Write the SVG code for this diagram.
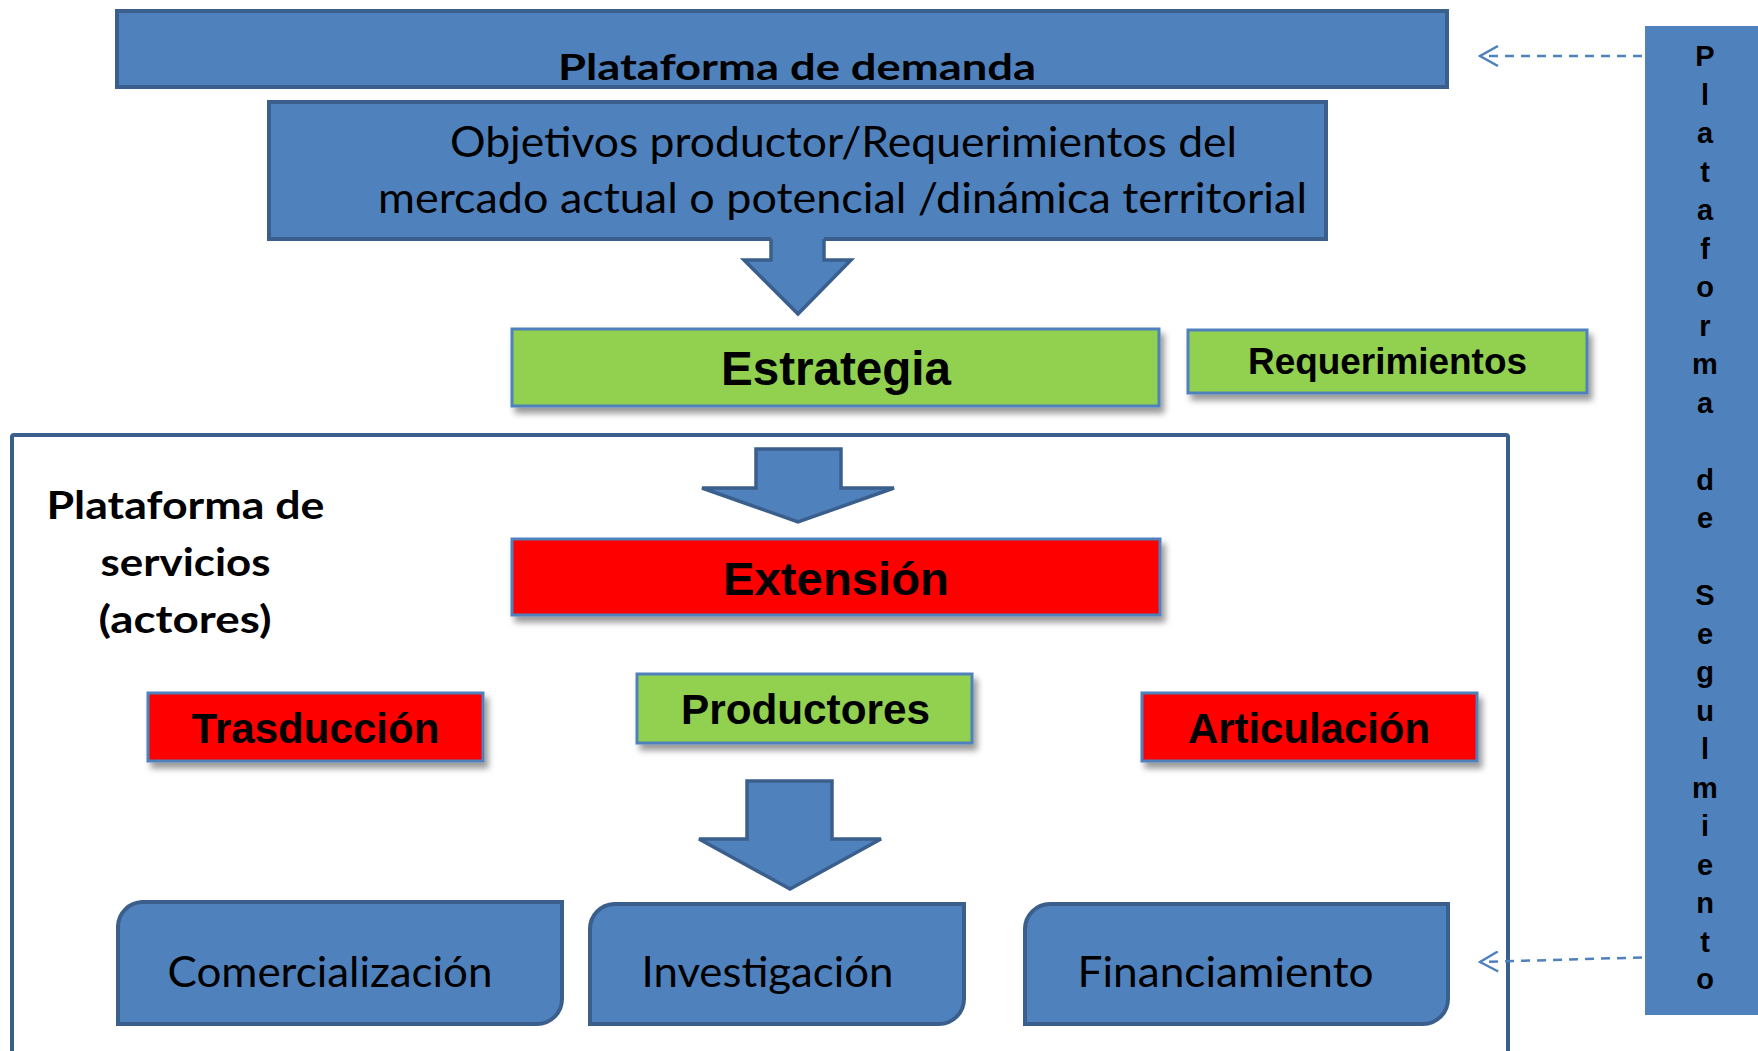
<svg xmlns="http://www.w3.org/2000/svg" width="1758" height="1051" viewBox="0 0 1758 1051">
<defs>
<style>
.blue{fill:#4F81BD;stroke:#3B5F8C;stroke-width:4}
.green{fill:#92D050;stroke:#4F81BD;stroke-width:3;filter:url(#sh)}
.red{fill:#FF0000;stroke:#4F81BD;stroke-width:3;filter:url(#sh)}
.arial{font-family:"Liberation Sans",Arial,sans-serif;font-weight:bold;fill:#000}
.cal{font-family:Lato,"Open Sans",sans-serif;fill:#000}
.calb{font-family:Lato,"Open Sans",sans-serif;font-weight:bold;fill:#000}
.dash{fill:none;stroke:#4F81BD;stroke-width:2.5;stroke-dasharray:9 7}
.arrfill{fill:#4F81BD;stroke:none}
.arrline{fill:none;stroke:#3B5F8C;stroke-width:3.5;stroke-linejoin:miter}
.vt{font-family:"Liberation Sans",Arial,sans-serif;font-weight:bold;font-size:29px;fill:#000;text-anchor:middle}
</style>
<filter id="sh" x="-10%" y="-20%" width="130%" height="160%">
<feDropShadow dx="4" dy="6" stdDeviation="3" flood-color="#000" flood-opacity="0.4"/>
</filter>
<marker id="chev" viewBox="0 0 22 22" refX="20" refY="11" markerWidth="22" markerHeight="22" markerUnits="userSpaceOnUse" orient="auto">
<path d="M2,1 L20,11 L2,21" fill="none" stroke="#4F81BD" stroke-width="2.5"/>
</marker>
</defs>

<g id="seguimiento">
<rect x="1645" y="26" width="113" height="989" fill="#4F81BD"/>
<text class="vt" x="1705" y="66">P</text>
<text class="vt" x="1705" y="104.5">l</text>
<text class="vt" x="1705" y="143">a</text>
<text class="vt" x="1705" y="181.5">t</text>
<text class="vt" x="1705" y="220">a</text>
<text class="vt" x="1705" y="258.5">f</text>
<text class="vt" x="1705" y="297">o</text>
<text class="vt" x="1705" y="335.5">r</text>
<text class="vt" x="1705" y="374">m</text>
<text class="vt" x="1705" y="412.5">a</text>
<text class="vt" x="1705" y="489.5">d</text>
<text class="vt" x="1705" y="528">e</text>
<text class="vt" x="1705" y="605">S</text>
<text class="vt" x="1705" y="643.5">e</text>
<text class="vt" x="1705" y="682">g</text>
<text class="vt" x="1705" y="720.5">u</text>
<text class="vt" x="1705" y="759">l</text>
<text class="vt" x="1705" y="797.5">m</text>
<text class="vt" x="1705" y="836">i</text>
<text class="vt" x="1705" y="874.5">e</text>
<text class="vt" x="1705" y="913">n</text>
<text class="vt" x="1705" y="951.5">t</text>
<text class="vt" x="1705" y="989">o</text>
</g>

<g id="plataforma-servicios">
<rect x="12" y="435" width="1496" height="700" rx="2" fill="none" stroke="#3B5F8C" stroke-width="4"/>
<text class="calb" font-size="39" text-anchor="middle" x="185.5" y="519" textLength="278" lengthAdjust="spacingAndGlyphs">Plataforma de</text>
<text class="calb" font-size="39" text-anchor="middle" x="185.5" y="576" textLength="170" lengthAdjust="spacingAndGlyphs">servicios</text>
<text class="calb" font-size="39" text-anchor="middle" x="185" y="633" textLength="173" lengthAdjust="spacingAndGlyphs">(actores)</text>
</g>

<g id="plataforma-demanda">
<rect class="blue" x="117" y="11" width="1330" height="76"/>
<text class="calb" font-size="37" text-anchor="middle" x="797" y="79.5" textLength="478" lengthAdjust="spacingAndGlyphs">Plataforma de demanda</text>
</g>

<g id="objetivos">
<rect class="blue" x="269" y="102" width="1057" height="137"/>
<text class="cal" font-size="42" text-anchor="middle" x="843.5" y="157" textLength="787" lengthAdjust="spacingAndGlyphs">Objetivos productor/Requerimientos del</text>
<text class="cal" font-size="42" text-anchor="middle" x="842.5" y="213" textLength="929" lengthAdjust="spacingAndGlyphs">mercado actual o potencial /dinámica territorial</text>
</g>

<g id="estrategia">
<rect class="green" x="512" y="329" width="647" height="77"/>
<text class="arial" font-size="48" text-anchor="middle" x="836" y="385" textLength="230" lengthAdjust="spacingAndGlyphs">Estrategia</text>
</g>

<g id="requerimientos">
<rect class="green" x="1188" y="330" width="399" height="63"/>
<text class="arial" font-size="36" text-anchor="middle" x="1387.5" y="374" textLength="279" lengthAdjust="spacingAndGlyphs">Requerimientos</text>
</g>

<g id="extension">
<rect class="red" x="512" y="539" width="648" height="76"/>
<text class="arial" font-size="47" text-anchor="middle" x="836" y="595" textLength="226" lengthAdjust="spacingAndGlyphs">Extensión</text>
</g>

<g id="productores">
<rect class="green" x="637" y="674" width="335" height="69"/>
<text class="arial" font-size="42" text-anchor="middle" x="805.5" y="724" textLength="249" lengthAdjust="spacingAndGlyphs">Productores</text>
</g>

<g id="trasduccion">
<rect class="red" x="148" y="693" width="335" height="68"/>
<text class="arial" font-size="42" text-anchor="middle" x="315.5" y="743" textLength="248" lengthAdjust="spacingAndGlyphs">Trasducción</text>
</g>

<g id="articulacion">
<rect class="red" x="1142" y="693" width="335" height="68"/>
<text class="arial" font-size="42" text-anchor="middle" x="1309" y="743" textLength="242" lengthAdjust="spacingAndGlyphs">Articulación</text>
</g>

<g id="comercializacion">
<path class="blue" d="M142,902 H562 V999 A25,25 0 0 1 537,1024 H118 V926 A25,25 0 0 1 142,902 Z"/>
<text class="cal" font-size="42" text-anchor="middle" x="330" y="987" textLength="325" lengthAdjust="spacingAndGlyphs">Comercialización</text>
</g>

<g id="investigacion">
<path class="blue" d="M614,904 H964 V999 A25,25 0 0 1 939,1024 H590 V929 A25,25 0 0 1 614,904 Z"/>
<text class="cal" font-size="42" text-anchor="middle" x="767.5" y="987" textLength="252" lengthAdjust="spacingAndGlyphs">Investigación</text>
</g>

<g id="financiamiento">
<path class="blue" d="M1050,904 H1448 V999 A25,25 0 0 1 1423,1024 H1025 V929 A25,25 0 0 1 1050,904 Z"/>
<text class="cal" font-size="42" text-anchor="middle" x="1225.5" y="987" textLength="296" lengthAdjust="spacingAndGlyphs">Financiamiento</text>
</g>

<g id="connectors">
<path class="arrfill" d="M771,236 H824 V260 H851 L798,314 L744,260 H771 Z"/>
<path class="arrline" d="M771,239 V260 H744 L798,314 L851,260 H824 V239"/>
<path class="arrfill" d="M756,449 H841 V488 H894 L798,522 L702,488 H756 Z"/>
<path class="arrline" d="M756,449 H841 V488 H894 L798,522 L702,488 H756 Z"/>
<path class="arrfill" d="M747,781 H832 V839 H881 L790,889 L699,839 H747 Z"/>
<path class="arrline" d="M747,781 H832 V839 H881 L790,889 L699,839 H747 Z"/>
<line class="dash" x1="1658" y1="56" x2="1480" y2="56" marker-end="url(#chev)"/>
<line class="dash" x1="1658" y1="957" x2="1480" y2="962" marker-end="url(#chev)"/>
</g>
</svg>
